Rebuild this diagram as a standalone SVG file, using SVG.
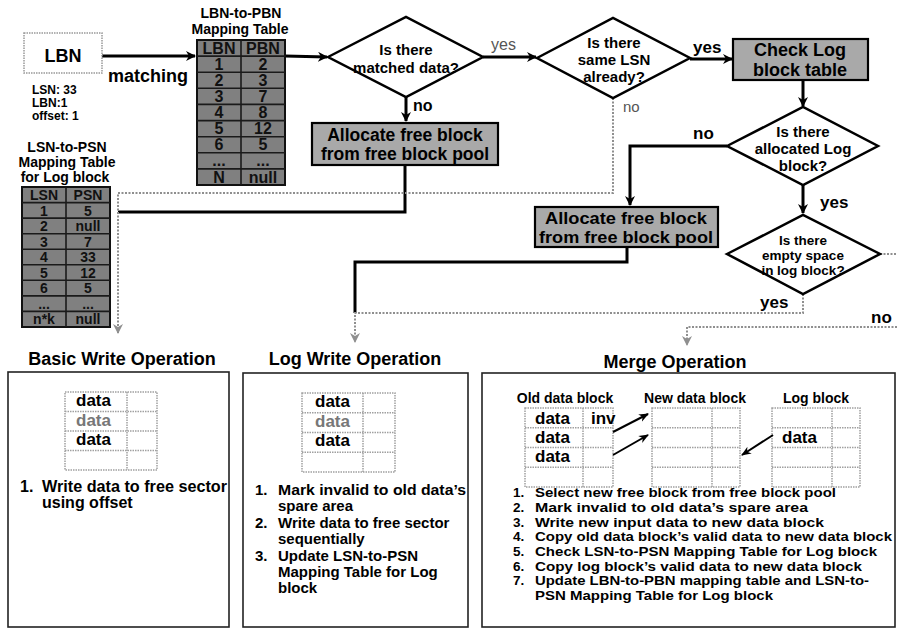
<svg xmlns="http://www.w3.org/2000/svg" width="897" height="629" viewBox="0 0 897 629">
  <style>
    .t { font-family: "Liberation Sans", Arial, sans-serif; font-weight: bold; fill: #000; }
    .n { font-family: "Liberation Sans", Arial, sans-serif; font-weight: normal; fill: #555; }
    .mid { text-anchor: middle; }
    .solid { stroke: #000; stroke-width: 3; fill: none; }
    .thin { stroke: #000; stroke-width: 2; fill: none; }
    .dot { stroke: #8f8f8f; stroke-width: 2; stroke-dasharray: 2 1.5; fill: none; }
    .dia { fill: #fff; stroke: #000; stroke-width: 2.5; }
    .proc { fill: #a9a9a9; stroke: #000; stroke-width: 2.2; }
    .tbl { fill: #808080; stroke: #111; stroke-width: 2; }
    .grid { stroke: #1a1a1a; stroke-width: 1.6; }
    .cell { font-family: "Liberation Sans", Arial, sans-serif; font-weight: bold; fill: #111; font-size: 16px; text-anchor: middle; }
    .cs { font-size: 14px; }
    .mini { fill: #fff; stroke: #a0a0a0; stroke-width: 1.5; stroke-dasharray: 1.5 1; }
    .minig { stroke: #a0a0a0; stroke-width: 1.5; stroke-dasharray: 1.5 1; }
    .panel { fill: #fff; stroke: #222; stroke-width: 1.6; }
    .lst { font-size: 15px; }
    .mlst { font-size: 13.5px; }
  </style>
  <defs>
    <marker id="ah" markerWidth="10" markerHeight="10" refX="9" refY="5" orient="auto" markerUnits="userSpaceOnUse">
      <path d="M0,0 L10,5 L0,10 L3,5 z" fill="#000"/>
    </marker>
    <marker id="ahg" markerWidth="10" markerHeight="10" refX="9" refY="5" orient="auto" markerUnits="userSpaceOnUse">
      <path d="M0,0 L10,5 L0,10 L3,5 z" fill="#8f8f8f"/>
    </marker>
    <marker id="ahs" markerWidth="10" markerHeight="10" refX="9" refY="5" orient="auto" markerUnits="userSpaceOnUse">
      <path d="M0,1 L10,5 L0,9 L3,5 z" fill="#000"/>
    </marker>
  </defs>

  <!-- connectors -->
  <g id="connectors">
    <line class="solid" x1="102" y1="56" x2="195" y2="56" marker-end="url(#ah)"/>
    <line class="solid" x1="285" y1="56" x2="327" y2="57" marker-end="url(#ah)"/>
    <line class="solid" x1="483" y1="57" x2="536" y2="57" marker-end="url(#ah)"/>
    <line class="solid" x1="406" y1="97" x2="406" y2="121" marker-end="url(#ah)"/>
    <line class="solid" x1="690" y1="59" x2="732" y2="59" marker-end="url(#ah)"/>
    <line class="solid" x1="803" y1="80" x2="803" y2="106" marker-end="url(#ah)"/>
    <polyline class="solid" points="727,146 630,146 630,205" marker-end="url(#ah)"/>
    <line class="solid" x1="803" y1="185" x2="803" y2="213" marker-end="url(#ah)"/>
    <polyline class="solid" points="405,165 405,212 118,212"/>
    <polyline class="dot" points="613,98 613,193 118,193 118,333" marker-end="url(#ahg)"/>
    <polyline class="solid" points="627,247 627,262 355,262 355,313"/>
    <polyline class="dot" points="803,294 803,313 355,313 355,342" marker-end="url(#ahg)"/>
    <polyline class="dot" points="880,254 897,254"/>
    <polyline class="dot" points="897,327 687,327 687,345" marker-end="url(#ahg)"/>
  </g>

  <!-- connector labels -->
  <g id="labels">
    <text class="t" x="108" y="82" font-size="18">matching</text>
    <text class="n" x="491" y="50" font-size="16">yes</text>
    <text class="t" x="413" y="111" font-size="16">no</text>
    <text class="n" x="623" y="112" font-size="15">no</text>
    <text class="t" x="693" y="53" font-size="17">yes</text>
    <text class="t" x="693" y="139" font-size="17">no</text>
    <text class="t" x="820" y="208" font-size="17">yes</text>
    <text class="t" x="760" y="308" font-size="17">yes</text>
    <text class="t" x="871" y="323" font-size="17">no</text>
  </g>

  <!-- LBN input -->
  <g id="lbn">
    <rect x="24" y="33" width="78" height="40" fill="#fff" stroke="#999" stroke-width="1.5" stroke-dasharray="1.5 1"/>
    <text class="t mid" x="63" y="62" font-size="18">LBN</text>
    <text class="t" x="32" y="94" font-size="12">LSN: 33</text>
    <text class="t" x="32" y="107" font-size="12">LBN:1</text>
    <text class="t" x="32" y="120" font-size="12">offset: 1</text>
  </g>

  <!-- LBN-to-PBN mapping table -->
  <g id="lbn-pbn-table">
    <text class="t mid" x="241" y="18" font-size="14">LBN-to-PBN</text>
    <text class="t mid" x="240" y="34" font-size="14">Mapping Table</text>
    <rect class="tbl" x="197" y="40" width="88" height="145"/>
    <g class="grid">
      <line x1="241" y1="40" x2="241" y2="185"/>
      <line x1="197" y1="56.1" x2="285" y2="56.1"/>
      <line x1="197" y1="72.2" x2="285" y2="72.2"/>
      <line x1="197" y1="88.3" x2="285" y2="88.3"/>
      <line x1="197" y1="104.4" x2="285" y2="104.4"/>
      <line x1="197" y1="120.6" x2="285" y2="120.6"/>
      <line x1="197" y1="136.7" x2="285" y2="136.7"/>
      <line x1="197" y1="152.8" x2="285" y2="152.8"/>
      <line x1="197" y1="168.9" x2="285" y2="168.9"/>
    </g>
    <text class="cell" x="219" y="54">LBN</text>
    <text class="cell" x="263" y="54">PBN</text>
    <text class="cell" x="219" y="70">1</text><text class="cell" x="263" y="70">2</text>
    <text class="cell" x="219" y="86">2</text><text class="cell" x="263" y="86">3</text>
    <text class="cell" x="219" y="102">3</text><text class="cell" x="263" y="102">7</text>
    <text class="cell" x="219" y="118">4</text><text class="cell" x="263" y="118">8</text>
    <text class="cell" x="219" y="134">5</text><text class="cell" x="263" y="134">12</text>
    <text class="cell" x="219" y="150">6</text><text class="cell" x="263" y="150">5</text>
    <text class="cell" x="219" y="166">...</text><text class="cell" x="263" y="166">...</text>
    <text class="cell" x="219" y="183">N</text><text class="cell" x="263" y="183">null</text>
  </g>

  <!-- LSN-to-PSN mapping table for log block -->
  <g id="lsn-psn-table">
    <text class="t mid" x="67" y="152" font-size="14">LSN-to-PSN</text>
    <text class="t mid" x="67" y="167" font-size="14">Mapping Table</text>
    <text class="t mid" x="65" y="182" font-size="14">for Log block</text>
    <rect class="tbl" x="22" y="187" width="88" height="140"/>
    <g class="grid">
      <line x1="66" y1="187" x2="66" y2="327"/>
      <line x1="22" y1="202.6" x2="110" y2="202.6"/>
      <line x1="22" y1="218.1" x2="110" y2="218.1"/>
      <line x1="22" y1="233.7" x2="110" y2="233.7"/>
      <line x1="22" y1="249.2" x2="110" y2="249.2"/>
      <line x1="22" y1="264.8" x2="110" y2="264.8"/>
      <line x1="22" y1="280.3" x2="110" y2="280.3"/>
      <line x1="22" y1="295.9" x2="110" y2="295.9"/>
      <line x1="22" y1="311.4" x2="110" y2="311.4"/>
    </g>
    <text class="cell cs" x="44" y="200">LSN</text><text class="cell cs" x="88" y="200">PSN</text>
    <text class="cell cs" x="44" y="215.5">1</text><text class="cell cs" x="88" y="215.5">5</text>
    <text class="cell cs" x="44" y="231">2</text><text class="cell cs" x="88" y="231">null</text>
    <text class="cell cs" x="44" y="246.5">3</text><text class="cell cs" x="88" y="246.5">7</text>
    <text class="cell cs" x="44" y="262">4</text><text class="cell cs" x="88" y="262">33</text>
    <text class="cell cs" x="44" y="277.5">5</text><text class="cell cs" x="88" y="277.5">12</text>
    <text class="cell cs" x="44" y="293">6</text><text class="cell cs" x="88" y="293">5</text>
    <text class="cell cs" x="44" y="308.5">...</text><text class="cell cs" x="88" y="308.5">...</text>
    <text class="cell cs" x="44" y="324">n*k</text><text class="cell cs" x="88" y="324">null</text>
  </g>

  <!-- decisions -->
  <g id="matched">
    <polygon class="dia" points="328,57 406,17 483,57 406,97"/>
    <text class="t mid" x="406" y="55" font-size="15">Is there</text>
    <text class="t mid" x="406" y="73" font-size="15">matched data?</text>
  </g>
  <g id="same-lsn">
    <polygon class="dia" points="537,58 613,18 690,58 613,98"/>
    <text class="t mid" x="614" y="48" font-size="15">Is there</text>
    <text class="t mid" x="614" y="65" font-size="15">same LSN</text>
    <text class="t mid" x="614" y="82" font-size="15">already?</text>
  </g>
  <g id="allocated-log">
    <polygon class="dia" points="727,146 803,107 878,146 803,185"/>
    <text class="t mid" x="803" y="137" font-size="15">Is there</text>
    <text class="t mid" x="803" y="154" font-size="15">allocated Log</text>
    <text class="t mid" x="803" y="171" font-size="15">block?</text>
  </g>
  <g id="empty-space">
    <polygon class="dia" points="727,254 803,215 880,254 803,294"/>
    <text class="t mid" x="803" y="245" font-size="13.5">Is there</text>
    <text class="t mid" x="803" y="260" font-size="13.5">empty space</text>
    <text class="t mid" x="803" y="275" font-size="13.5">in log block?</text>
  </g>

  <!-- processes -->
  <g id="alloc-1">
    <rect class="proc" x="312" y="123" width="186" height="42"/>
    <text class="t mid" x="405" y="141" font-size="17.5">Allocate free block</text>
    <text class="t mid" x="405" y="160" font-size="17.5">from free block pool</text>
  </g>
  <g id="check-log">
    <rect class="proc" x="733" y="39" width="135" height="41"/>
    <text class="t mid" x="800" y="56" font-size="18">Check Log</text>
    <text class="t mid" x="800" y="76" font-size="18">block table</text>
  </g>
  <g id="alloc-2">
    <rect class="proc" x="535" y="207" width="183" height="40"/>
    <text class="t mid" x="626" y="224" font-size="16" textLength="162" lengthAdjust="spacingAndGlyphs">Allocate free block</text>
    <text class="t mid" x="626" y="243" font-size="16" textLength="174" lengthAdjust="spacingAndGlyphs">from free block pool</text>
  </g>

  <!-- basic write operation -->
  <g id="basic-write">
    <text class="t mid" x="122" y="365" font-size="18">Basic Write Operation</text>
    <rect class="panel" x="8" y="372" width="221" height="255"/>
    <rect class="mini" x="65" y="392" width="92" height="78"/>
    <line class="minig" x1="127" y1="392" x2="127" y2="470"/>
    <line class="minig" x1="65" y1="411.5" x2="157" y2="411.5"/>
    <line class="minig" x1="65" y1="431" x2="157" y2="431"/>
    <line class="minig" x1="65" y1="450.5" x2="157" y2="450.5"/>
    <text class="t" x="76" y="406" font-size="17">data</text>
    <text class="t" x="76" y="426" font-size="17" style="fill:#777">data</text>
    <text class="t" x="76" y="445" font-size="17">data</text>
    <text class="t" x="20" y="492" font-size="16">1.</text>
    <text class="t" x="42" y="492" font-size="16" textLength="185" lengthAdjust="spacingAndGlyphs">Write data to free sector</text>
    <text class="t" x="42" y="508" font-size="16">using offset</text>
  </g>

  <!-- log write operation -->
  <g id="log-write">
    <text class="t mid" x="355" y="365" font-size="18">Log Write Operation</text>
    <rect class="panel" x="243" y="373" width="225" height="254"/>
    <rect class="mini" x="302" y="393" width="93" height="79"/>
    <line class="minig" x1="363" y1="393" x2="363" y2="472"/>
    <line class="minig" x1="302" y1="412.7" x2="395" y2="412.7"/>
    <line class="minig" x1="302" y1="432.5" x2="395" y2="432.5"/>
    <line class="minig" x1="302" y1="452.2" x2="395" y2="452.2"/>
    <text class="t" x="315" y="407" font-size="17">data</text>
    <text class="t" x="315" y="427" font-size="17" style="fill:#777">data</text>
    <text class="t" x="315" y="446" font-size="17">data</text>
    <text class="t lst" x="255" y="495">1.</text>
    <text class="t lst" x="278" y="495" textLength="188" lengthAdjust="spacingAndGlyphs">Mark invalid to old data’s</text>
    <text class="t lst" x="278" y="511">spare area</text>
    <text class="t lst" x="255" y="528">2.</text>
    <text class="t lst" x="278" y="528">Write data to free sector</text>
    <text class="t lst" x="278" y="544">sequentially</text>
    <text class="t lst" x="255" y="561">3.</text>
    <text class="t lst" x="278" y="561">Update LSN-to-PSN</text>
    <text class="t lst" x="278" y="577">Mapping Table for Log</text>
    <text class="t lst" x="278" y="593">block</text>
  </g>

  <!-- merge operation -->
  <g id="merge">
    <text class="t mid" x="675" y="368" font-size="18">Merge Operation</text>
    <rect class="panel" x="482" y="373" width="413" height="254"/>
    <text class="t mid" x="565" y="403" font-size="14">Old data block</text>
    <text class="t mid" x="695" y="403" font-size="14">New data block</text>
    <text class="t mid" x="816" y="403" font-size="14">Log block</text>

    <rect class="mini" x="525" y="408" width="88" height="79"/>
    <line class="minig" x1="583" y1="408" x2="583" y2="487"/>
    <line class="minig" x1="525" y1="427.7" x2="613" y2="427.7"/>
    <line class="minig" x1="525" y1="447.5" x2="613" y2="447.5"/>
    <line class="minig" x1="525" y1="467.2" x2="613" y2="467.2"/>
    <text class="t" x="535" y="424" font-size="17">data</text>
    <text class="t" x="591" y="424" font-size="17">inv</text>
    <text class="t" x="535" y="443" font-size="17">data</text>
    <text class="t" x="535" y="462" font-size="17">data</text>

    <rect class="mini" x="652" y="408" width="88" height="79"/>
    <line class="minig" x1="712" y1="408" x2="712" y2="487"/>
    <line class="minig" x1="652" y1="427.7" x2="740" y2="427.7"/>
    <line class="minig" x1="652" y1="447.5" x2="740" y2="447.5"/>
    <line class="minig" x1="652" y1="467.2" x2="740" y2="467.2"/>

    <rect class="mini" x="772" y="408" width="88" height="79"/>
    <line class="minig" x1="832" y1="408" x2="832" y2="487"/>
    <line class="minig" x1="772" y1="427.7" x2="860" y2="427.7"/>
    <line class="minig" x1="772" y1="447.5" x2="860" y2="447.5"/>
    <line class="minig" x1="772" y1="467.2" x2="860" y2="467.2"/>
    <text class="t" x="782" y="443" font-size="17">data</text>

    <line class="thin" x1="613" y1="432" x2="648" y2="414" marker-end="url(#ahs)"/>
    <line class="thin" x1="613" y1="455" x2="648" y2="435" marker-end="url(#ahs)"/>
    <line class="thin" x1="773" y1="435" x2="742" y2="455" marker-end="url(#ahs)"/>

    <text class="t mlst" x="513" y="497">1.</text>
    <text class="t mlst" x="535" y="497" textLength="301" lengthAdjust="spacingAndGlyphs">Select new free block from free block pool</text>
    <text class="t mlst" x="513" y="512">2.</text>
    <text class="t mlst" x="535" y="512" textLength="273" lengthAdjust="spacingAndGlyphs">Mark invalid to old data’s spare area</text>
    <text class="t mlst" x="513" y="527">3.</text>
    <text class="t mlst" x="535" y="527" textLength="289" lengthAdjust="spacingAndGlyphs">Write new input data to new data block</text>
    <text class="t mlst" x="513" y="541">4.</text>
    <text class="t mlst" x="535" y="541" textLength="357" lengthAdjust="spacingAndGlyphs">Copy old data block’s valid data to new data block</text>
    <text class="t mlst" x="513" y="556">5.</text>
    <text class="t mlst" x="535" y="556" textLength="342" lengthAdjust="spacingAndGlyphs">Check LSN-to-PSN Mapping Table for Log block</text>
    <text class="t mlst" x="513" y="571">6.</text>
    <text class="t mlst" x="535" y="571" textLength="327" lengthAdjust="spacingAndGlyphs">Copy log block’s valid data to  new data block</text>
    <text class="t mlst" x="513" y="585">7.</text>
    <text class="t mlst" x="535" y="585" textLength="334" lengthAdjust="spacingAndGlyphs">Update LBN-to-PBN mapping table and LSN-to-</text>
    <text class="t mlst" x="535" y="600" textLength="238" lengthAdjust="spacingAndGlyphs">PSN Mapping Table for Log block</text>
  </g>
</svg>
